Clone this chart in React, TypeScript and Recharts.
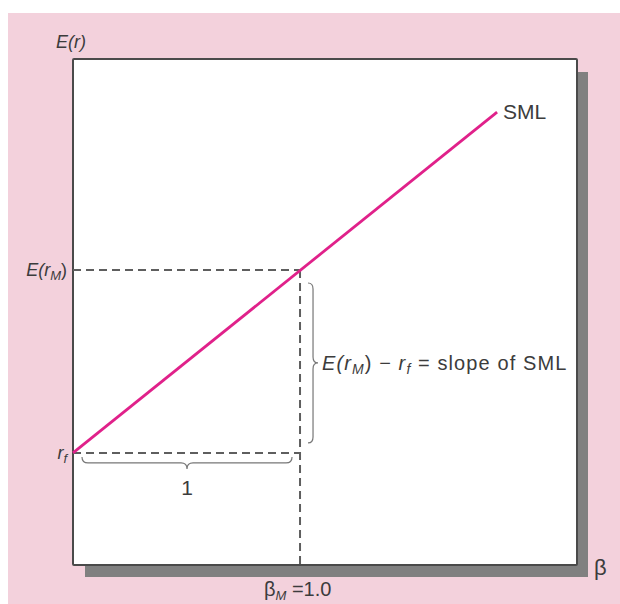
import { LineChart, Line, XAxis, YAxis, ReferenceLine } from "recharts";

// values (beta on x, expected return on y, arbitrary units)
const riskFree = 4.43;
const marketReturn = 11.66;
const marketBeta = 1.0;
const smlBetas = [0, 1.868];
const smlReturns = [4.43, 17.9];
const betaDomain = [0, 2.22];
const returnDomain = [0, 20];

const smlData = smlBetas.map((b, i) => ({ beta: b, er: smlReturns[i] }));

const FONT = "'Liberation Sans', Arial, Helvetica, sans-serif";
const INK = "#3c3c3c";
const DASH = "#5e5e5e";

function YTick({ x, y, payload }: any) {
  const isRf = Math.abs(payload.value - riskFree) < 0.01;
  return (
    <text x={x + 2} y={y + 6} textAnchor="end" fontFamily={FONT} fontSize={18} fontStyle="italic" fill={INK}>
      {isRf ? (
        <>
          <tspan>r</tspan>
          <tspan fontSize={13} dy={4}>f</tspan>
        </>
      ) : (
        <>
          <tspan>E(r</tspan>
          <tspan fontSize={13} dy={4}>M</tspan>
          <tspan dy={-4} fontStyle="normal">)</tspan>
        </>
      )}
    </text>
  );
}

function XTick({ x, y }: any) {
  return (
    <text x={x - 36} y={y + 23} fontFamily={FONT} fontSize={20} fill={INK}>
      <tspan>β</tspan>
      <tspan fontSize={13} fontStyle="italic" dy={4}>M</tspan>
      <tspan dy={-4}> =1.0</tspan>
    </text>
  );
}

// horizontal brace under the r_f dashed line
function BottomBrace({ x1, x2, y1 }: any) {
  const a = x1 + 9;
  const b = x2 - 8;
  const top = y1 + 4;
  const d = 12;
  const mid = (a + b) / 2;
  const h = top + d / 2;
  const path = `M${a},${top} Q${a},${h} ${a + 6},${h} L${mid - 6},${h} Q${mid},${h} ${mid},${top + d} Q${mid},${h} ${mid + 6},${h} L${b - 6},${h} Q${b},${h} ${b},${top}`;
  return (
    <g>
      <path d={path} fill="none" stroke="#777" strokeWidth={1.2} />
      <text x={mid} y={top + 38} textAnchor="middle" fontFamily={FONT} fontSize={21} fill={INK}>1</text>
    </g>
  );
}

// vertical brace to the right of the market beta dashed line
function SideBrace({ x1, y1, y2 }: any) {
  const left = x1 + 8;
  const a = y1 + 13;
  const b = y2 - 10;
  const d = 10;
  const mid = (a + b) / 2;
  const v = left + d / 2;
  const path = `M${left},${a} Q${v},${a} ${v},${a + 6} L${v},${mid - 6} Q${v},${mid} ${left + d},${mid} Q${v},${mid} ${v},${mid + 6} L${v},${b - 6} Q${v},${b} ${left},${b}`;
  return (
    <g>
      <path d={path} fill="none" stroke="#777" strokeWidth={1.2} />
      <text x={left + 14} y={mid + 7} fontFamily={FONT} fontSize={20} letterSpacing={1.1} fill={INK}>
        <tspan fontStyle="italic">E(r</tspan>
        <tspan fontSize={14} fontStyle="italic" dy={4}>M</tspan>
        <tspan dy={-4}>) − </tspan>
        <tspan fontStyle="italic">r</tspan>
        <tspan fontSize={14} fontStyle="italic" dy={4}>f</tspan>
        <tspan dy={-4}> = slope of SML</tspan>
      </text>
    </g>
  );
}

function SmlLabel({ x, y, index }: any) {
  if (index !== smlData.length - 1) return null;
  return (
    <text x={x + 6} y={y + 7} fontFamily={FONT} fontSize={21} fill={INK}>SML</text>
  );
}

export default function App() {
  return (
    <div style={{ position: "absolute", left: 0, top: 0, width: 620, height: 604, background: "#fff" }}>
      <div style={{ position: "absolute", left: 8, top: 13, width: 612, height: 591, background: "#f3d1dc" }} />
      <div style={{ position: "absolute", left: 85, top: 72, width: 503, height: 505, background: "#808080" }} />
      <div
        style={{
          position: "absolute",
          left: 72,
          top: 58,
          width: 506,
          height: 508,
          boxSizing: "border-box",
          border: "2px solid #4a4a4a",
          borderRadius: 2,
          background: "#fff",
        }}
      />
      <div style={{ position: "absolute", left: 0, top: 0 }}>
        <LineChart width={620} height={604} data={smlData} margin={{ top: 59, right: 43, bottom: 0, left: 0 }}>
          <XAxis
            type="number"
            dataKey="beta"
            domain={betaDomain}
            ticks={[marketBeta]}
            height={39}
            axisLine={false}
            tickLine={false}
            tick={<XTick />}
            label={{
              content: ({ viewBox }: any) => (
                <text x={viewBox.x + viewBox.width + 17} y={viewBox.y + 10} fontFamily={FONT} fontSize={22} fill={INK}>β</text>
              ),
            }}
          />
          <YAxis
            type="number"
            domain={returnDomain}
            ticks={[riskFree, marketReturn]}
            width={73}
            axisLine={false}
            tickLine={false}
            tick={<YTick />}
            label={{
              content: ({ viewBox }: any) => (
                <text x={viewBox.x + 56} y={viewBox.y - 11} fontFamily={FONT} fontSize={18} fontStyle="italic" fill={INK}>
                  E(r)
                </text>
              ),
            }}
          />
          <ReferenceLine
            segment={[{ x: 0, y: marketReturn }, { x: marketBeta, y: marketReturn }]}
            stroke={DASH}
            strokeWidth={2}
            strokeDasharray="8 5"
          />
          <ReferenceLine
            segment={[{ x: marketBeta, y: marketReturn }, { x: marketBeta, y: 0 }]}
            stroke={DASH}
            strokeWidth={2}
            strokeDasharray="8 5"
          />
          <ReferenceLine
            segment={[{ x: 0, y: riskFree }, { x: marketBeta, y: riskFree }]}
            stroke={DASH}
            strokeWidth={2}
            strokeDasharray="8 5"
          />
          <ReferenceLine
            segment={[{ x: 0, y: riskFree }, { x: marketBeta, y: riskFree }]}
            shape={(p: any) => <BottomBrace {...p} />}
          />
          <ReferenceLine
            segment={[{ x: marketBeta, y: marketReturn }, { x: marketBeta, y: riskFree }]}
            shape={(p: any) => <SideBrace {...p} />}
          />
          <Line
            type="linear"
            dataKey="er"
            stroke="#e0218a"
            strokeWidth={2.8}
            dot={false}
            isAnimationActive={false}
            label={<SmlLabel />}
          />
        </LineChart>
      </div>
    </div>
  );
}
